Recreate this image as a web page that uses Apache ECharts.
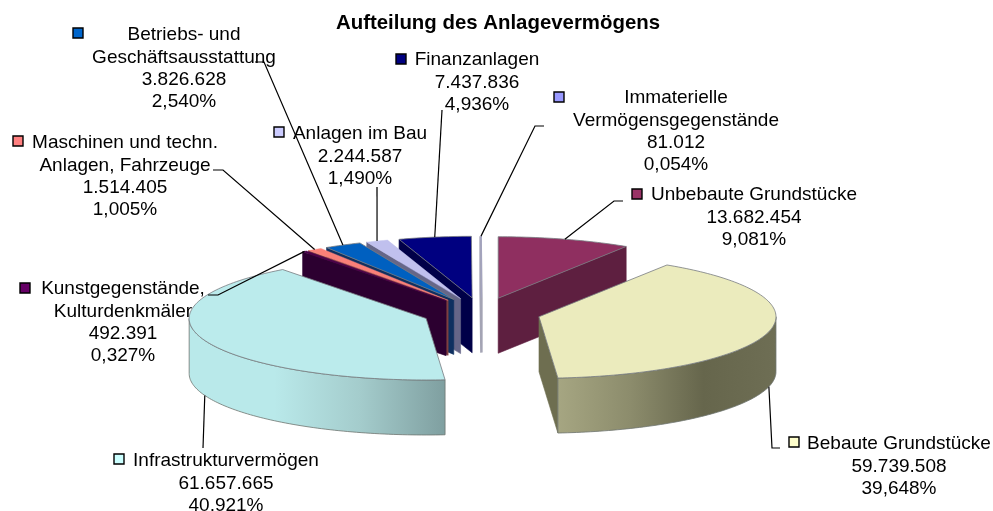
<!DOCTYPE html>
<html>
<head>
<meta charset="utf-8">
<style>
  html, body { margin: 0; padding: 0; background: #fff; }
  #chart { width: 993px; height: 511px; }
</style>
<script src="https://cdn.jsdelivr.net/npm/echarts@6/dist/echarts.min.js"></script>
</head>
<body>
<div id="chart"></div>
<script>
// chart data, clockwise from the top of the pie
const categories = [
  'Unbebaute Grundstücke',
  'Bebaute Grundstücke',
  'Infrastrukturvermögen',
  'Kunstgegenstände,\nKulturdenkmäler',
  'Maschinen und techn.\nAnlagen, Fahrzeuge',
  'Betriebs- und\nGeschäftsausstattung',
  'Anlagen im Bau',
  'Finanzanlagen',
  'Immaterielle\nVermögensgegenstände'
]
const values = [13682454, 59739508, 61657665, 492391, 1514405, 3826628, 2244587, 7437836, 81012]

// colours per slice
const keyColors = ['#993366', '#ffffcc', '#ccffff', '#660066', '#ff8080', '#0066cc', '#ccccff', '#000080', '#9999ff']
const topColors = ['#8f2f60', '#ebebbd', '#bbebec', '#4a004a', '#fa8078', '#0060c0', '#c0c0ee', '#000080', '#a4a4c4']
const wallColors = ['#5e1f40', '#6e6e50', '#7fa0a0', '#2c0030', '#804040', '#0f3060', '#666688', '#000048', '#a4a4b4']
// rim gradients, left to right
const rimStops = {
  1: ['#a6a682', '#8c8c6c', '#66664c', '#6e6e54'],
  2: ['#b9e9ea', '#b9e9ea', '#a4cccc', '#7f9fa0']
}

// label boxes: [text centre x, first line y, key x, key y, elbow points of the leader]
const labelLayout = [
  [754, 194, 637, 194, [[623, 201], [614, 201]]],
  [899, 443, 794, 442, [[780, 448], [772, 448]]],
  [226, 460, 119, 459, [[203, 448]]],
  [123, 288, 25, 288, [[208, 295], [218, 295]]],
  [125, 142, 18, 141, [[213, 170], [223, 170]]],
  [184, 34, 78, 33, [[255, 62], [264, 62]]],
  [360, 133, 279, 132, [[377, 187]]],
  [477, 59, 401, 59, [[442, 110]]],
  [676, 97, 559, 97, [[544, 126], [535, 126]]]
]

// pie geometry
const cx = 481.5
const cy = 313
const rx = 237
const ry = 61.5
const depth = 55
const explode = 0.25

const total = values.reduce((a, b) => a + b, 0)
const slices = []
let acc = 0
values.forEach((v, i) => {
  const start = acc / total * Math.PI * 2
  acc += v
  const end = acc / total * Math.PI * 2
  const mid = (start + end) / 2
  slices.push({
    start,
    end,
    mid,
    tx: cx + explode * rx * Math.sin(mid),
    ty: cy - explode * ry * Math.cos(mid)
  })
})

function rimPoint(s, a, dy) {
  return [s.tx + rx * Math.sin(a), s.ty - ry * Math.cos(a) + (dy || 0)]
}

function arcPoints(s, from, to, dy) {
  const n = Math.max(2, Math.ceil((to - from) / 0.02))
  const pts = []
  for (let k = 0; k <= n; k++) pts.push(rimPoint(s, from + (to - from) * k / n, dy))
  return pts
}

function wall(s, a, fill) {
  const p = rimPoint(s, a)
  // very thin slices would vanish, so their wall gets a wider stroke
  const thin = s.end - s.start < 0.01
  return {
    type: 'polygon',
    shape: { points: [[s.tx, s.ty], p, [p[0], p[1] + depth], [s.tx, s.ty + depth]] },
    style: { fill, stroke: fill, lineWidth: thin ? 2.5 : 0.6 }
  }
}

function renderSlice(params, api) {
  const i = api.value(0)
  const s = slices[i]
  const children = []

  // start wall faces the viewer on the left half, end wall on the right half
  if (Math.sin(s.start) < 0) children.push(wall(s, s.start, wallColors[i]))
  if (Math.sin(s.end) > 0) children.push(wall(s, s.end, wallColors[i]))

  // front rim, only the part between 90 and 270 degrees
  const from = Math.max(s.start, Math.PI / 2)
  const to = Math.min(s.end, Math.PI * 1.5)
  if (to > from) {
    const stops = rimStops[i] || [wallColors[i], wallColors[i]]
    children.push({
      type: 'polygon',
      shape: { points: arcPoints(s, from, to, 0).concat(arcPoints(s, from, to, depth).reverse()) },
      style: {
        fill: new echarts.graphic.LinearGradient(0, 0, 1, 0,
          stops.map((color, k) => ({ offset: k / (stops.length - 1), color }))),
        stroke: '#6f7570',
        lineWidth: 0.8
      }
    })
  }

  // small slices keep their colour, a grey edge would swallow them
  const small = s.end - s.start < 0.15
  children.push({
    type: 'polygon',
    shape: { points: [[s.tx, s.ty]].concat(arcPoints(s, s.start, s.end, 0)) },
    style: { fill: topColors[i], stroke: small ? topColors[i] : '#777b80', lineWidth: small ? 0.4 : 0.8 }
  })
  return { type: 'group', children }
}

function formatValue(v) {
  return String(v).replace(/\B(?=(\d{3})+$)/g, '.')
}

function formatPercent(v) {
  return (v / total * 100).toFixed(3).replace('.', ',') + '%'
}

function renderLabel(params, api) {
  const i = api.value(0)
  const s = slices[i]
  const [textX, textY, keyX, keyY, elbow] = labelLayout[i]

  // leader ends on the rim at the slice's middle angle, front slices on the lower edge
  const front = Math.cos(s.mid) < 0
  const anchor = rimPoint(s, s.mid, front ? depth : 0)
  return {
    type: 'group',
    children: [
      {
        type: 'polyline',
        shape: { points: elbow.concat([anchor]) },
        style: { fill: 'none', stroke: '#000', lineWidth: 1.2 }
      },
      {
        type: 'rect',
        shape: { x: keyX - 5, y: keyY - 5, width: 10, height: 10 },
        style: { fill: keyColors[i], stroke: '#000', lineWidth: 1.4 }
      },
      {
        type: 'text',
        style: {
          text: categories[i] + '\n' + formatValue(values[i]) + '\n' + formatPercent(values[i]),
          x: textX,
          y: textY - 10,
          align: 'center',
          verticalAlign: 'top',
          lineHeight: 22.3,
          fill: '#000',
          font: '19px "Liberation Sans", Arial, sans-serif'
        }
      }
    ]
  }
}

// back slices first so the front ones paint over them
const paintOrder = values.map((v, i) => i).sort((a, b) => slices[a].ty - slices[b].ty)

const chart = echarts.init(document.getElementById('chart'))
chart.setOption({
  backgroundColor: '#fff',
  animation: false,
  title: {
    text: 'Aufteilung des Anlagevermögens',
    left: 493,
    top: 8,
    textAlign: 'center',
    textStyle: { fontFamily: 'Liberation Sans', fontSize: 20.4, fontWeight: 'bold', color: '#000' }
  },
  series: [
    {
      type: 'custom',
      coordinateSystem: 'none',
      silent: true,
      renderItem: renderSlice,
      data: paintOrder.map(i => [i])
    },
    {
      type: 'custom',
      coordinateSystem: 'none',
      silent: true,
      renderItem: renderLabel,
      data: values.map((v, i) => [i])
    }
  ]
})
</script>
</body>
</html>
